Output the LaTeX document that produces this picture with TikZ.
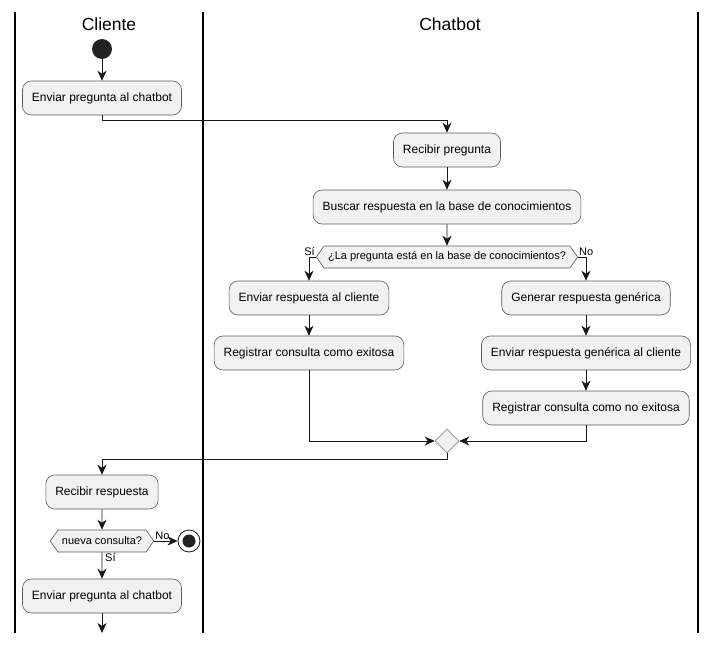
\documentclass[tikz,border=0pt]{standalone}
\usepackage{fontspec}
\setmainfont{Liberation Sans}
\usetikzlibrary{shapes.geometric, shapes.symbols, arrows.meta, positioning}
\definecolor{nodefill}{HTML}{F1F1F1}
\definecolor{nodeline}{HTML}{5A5A5A}
\definecolor{inkline}{HTML}{181818}
\definecolor{dotfill}{HTML}{222222}

\begin{document}
\begin{tikzpicture}[
  x=1pt, y=-1pt,
  box/.style={rectangle, draw=nodeline, line width=0.6pt, fill=nodefill, rounded corners=9pt, minimum height=34pt, inner xsep=9.5pt, align=center, font=\fontsize{12}{14}\selectfont},
  hexa/.style={signal, signal to=west and east, signal pointer angle=110, draw=nodeline, line width=0.6pt, fill=nodefill, minimum height=22pt, inner xsep=4pt, inner ysep=2pt, font=\fontsize{11}{13}\selectfont},
  merge/.style={diamond, draw=nodeline!70, line width=0.6pt, fill=nodefill, minimum size=24pt, inner sep=0pt},
  arrow/.style={-{Stealth[length=10pt, width=9pt, inset=3pt]}, line width=0.9pt, inkline},
  lane/.style={line width=1.3pt, black},
  title/.style={font=\fontsize{17.5}{20}\selectfont},
  tag/.style={font=\fontsize{11}{13}\selectfont, inner sep=1pt},
]
\useasboundingbox (0,0) rectangle (718,645);
% swimlanes
\draw[lane] (15,12) -- (15,633);
\draw[lane] (203,12) -- (203,633);
\draw[lane] (698,12) -- (698,633);
\node[title] (tcli) at (109,24) {Cliente};
\node[title] (tbot) at (450,24) {Chatbot};

% cliente
\node[circle, fill=dotfill, minimum size=20pt, inner sep=0pt] (start) at (102,49) {};
\node[box] (env1) at (102,98) {Enviar pregunta al chatbot};

% chatbot
\node[box] (recp) at (447,150) {Recibir pregunta};
\node[box] (busc) at (447,207) {Buscar respuesta en la base de conocimientos};
\node[hexa] (preg) at (447,257) {¿La pregunta está en la base de conocimientos?};
\node[box] (envc) at (309,298) {Enviar respuesta al cliente};
\node[box] (regok) at (309,353) {Registrar consulta como exitosa};
\node[box] (gen) at (586,298) {Generar respuesta genérica};
\node[box] (envg) at (586,353) {Enviar respuesta genérica al cliente};
\node[box] (regno) at (586,408) {Registrar consulta como no exitosa};
\node[merge] (join) at (447,441) {};

% cliente again
\node[box] (recr) at (102,492) {Recibir respuesta};
\node[hexa] (nueva) at (102,541) {nueva consulta?};
\node[circle, draw=inkline, line width=0.8pt, fill=white, minimum size=22pt, inner sep=0pt] (stop) at (189,541) {};
\fill[dotfill] (stop) circle (6.5);
\node[box] (env2) at (102,596) {Enviar pregunta al chatbot};
\coordinate (tail) at (102,633);

% flujo
\draw[arrow] (start) -- (env1);
\draw[arrow] (env1.south) -- ++(0,5) -| (recp.north);
\draw[arrow] (recp) -- (busc);
\draw[arrow] (busc) -- (preg);
\draw[arrow] (preg.west) -| (envc.north);
\draw[arrow] (preg.east) -| (gen.north);
\node[tag, anchor=south east] (si1) at (preg.west) {Sí};
\node[tag, anchor=south west] (no1) at (preg.east) {No};
\draw[arrow] (envc) -- (regok);
\draw[arrow] (gen) -- (envg);
\draw[arrow] (envg) -- (regno);
\draw[arrow] (regok.south) |- (join.west);
\draw[arrow] (regno.south) |- (join.east);
\draw[arrow] (join.south) -- ++(0,6) -| (recr.north);
\draw[arrow] (recr) -- (nueva);
\draw[arrow] (nueva.east) -- (stop);
\node[tag, anchor=south west] (no2) at (nueva.east) {No};
\draw[arrow] (nueva) -- (env2);
\node[tag, anchor=north west] (si2) at ([xshift=2pt]nueva.south) {Sí};
\draw[arrow] (env2) -- (tail);
\end{tikzpicture}
\end{document}
